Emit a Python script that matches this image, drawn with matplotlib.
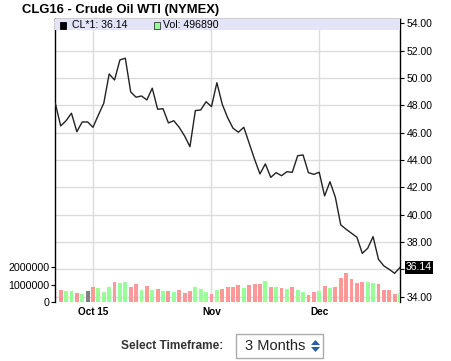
import matplotlib.pyplot as plt
from matplotlib.patches import Rectangle, Polygon
from matplotlib.ticker import FuncFormatter

plt.rcParams['font.family'] = ['Liberation Sans', 'DejaVu Sans']

# daily closes, first value is the prior close (left edge)
closes = [48.15, 46.49, 46.87, 47.42, 46.07, 46.78, 46.78, 46.39, 47.29, 48.15,
          50.29, 49.85, 51.32, 51.44, 48.97, 48.59, 48.68, 48.39, 49.25, 47.71,
          47.75, 46.71, 46.87, 46.39, 45.76, 44.97, 47.61, 47.66, 48.26, 47.90,
          49.65, 48.07, 47.09, 46.32, 46.03, 46.39, 45.22, 44.05, 42.98, 43.71,
          42.73, 43.07, 42.85, 43.14, 43.10, 44.31, 44.37, 43.07, 42.95, 43.10,
          41.37, 42.41, 41.27, 39.25, 38.93, 38.64, 38.35, 37.17, 37.54, 38.39,
          36.74, 36.25, 36.00, 35.71, 36.14]

# volume in millions, one per day from the second close on
volumes = [0.71, 0.66, 0.66, 0.52, 0.47, 0.64, 0.86, 0.81, 0.58, 0.86,
           1.14, 1.09, 1.14, 0.86, 1.03, 0.69, 0.92, 0.69, 0.75, 0.64,
           0.64, 0.58, 0.69, 0.52, 0.64, 0.86, 0.75, 0.58, 0.47, 0.69,
           0.75, 0.86, 0.86, 0.97, 0.81, 0.97, 1.03, 1.03, 1.20, 0.86,
           0.86, 0.81, 0.75, 0.86, 0.69, 0.58, 0.41, 0.58, 0.64, 0.92,
           0.81, 0.86, 1.37, 1.65, 1.31, 1.09, 1.14, 1.14, 1.09, 1.03,
           0.69, 0.69, 0.47, 0.49689]

month_ticks = [7, 29, 49]
month_labels = ["Oct 15", "Nov", "Dec"]
price_ticks = [34, 36, 38, 40, 42, 44, 46, 48, 50, 52, 54]
vol_ticks = [0, 1000000, 2000000]
last_price = 36.14
last_volume = 496890

days = list(range(len(closes)))
bar_days = days[1:]
bar_vol = [v * 1e6 for v in volumes]
colors = []
for prev, cur in zip(closes[:-1], closes[1:]):
    if cur > prev:
        colors.append("#99ff99")
    elif cur < prev:
        colors.append("#ff9999")
    else:
        colors.append("#808080")

W, H = 451, 361
def fx(x):
    return x / W
def fy(y):
    return 1 - y / H

def price_fmt(v, p):
    # the last-price tag hides the label it sits on
    if abs(v - last_price) < 0.5:
        return ""
    return f"{v:.2f}"

fig = plt.figure(figsize=(W / 100, H / 100), dpi=100)
top_px, bot_px, left_px, right_px = 19, 302.3, 55.3, 400
rect = [fx(left_px), fy(bot_px), (right_px - left_px) / W, (bot_px - top_px) / H]

base = fig.add_axes(rect)
vol = fig.add_axes(rect, sharex=base)
line_ax = fig.add_axes(rect, sharex=base, sharey=base)

# price scale / grid
base.set_xlim(0, len(closes) - 1)
base.set_ylim(33.59, 54.31)
base.set_yticks(price_ticks)
base.yaxis.set_major_formatter(FuncFormatter(price_fmt))
base.yaxis.tick_right()
base.set_xticks(month_ticks, month_labels)
base.grid(color="#dcdcdc", lw=1)
base.set_axisbelow(True)
base.tick_params(axis="y", length=3, width=0.8, pad=2, labelsize=7.5)
base.tick_params(axis="x", length=0, pad=3.5, labelsize=7.2)
for lab in base.get_xticklabels():
    lab.set_fontweight("bold")
base.spines["bottom"].set_visible(False)
for s in ["left", "right", "top"]:
    base.spines[s].set_linewidth(1)

# volume bars
vol.patch.set_visible(False)
vol.bar(bar_days, bar_vol, width=0.72, color=colors, linewidth=0)
vol.set_ylim(0, 15.92e6)
vol.set_yticks(vol_ticks)
vol.yaxis.set_major_formatter(FuncFormatter(lambda v, p: f"{int(v)}"))
vol.yaxis.tick_left()
vol.tick_params(axis="y", length=3, width=0.8, pad=1, labelsize=7.7)
vol.tick_params(axis="x", bottom=False, labelbottom=False)
for s in vol.spines.values():
    s.set_visible(False)

# price line + legend band
line_ax.patch.set_visible(False)
line_ax.axis("off")
band_h = (30 - top_px) / (bot_px - top_px)
line_ax.add_patch(Rectangle((0, 1 - band_h), 1, band_h, transform=line_ax.transAxes,
                            facecolor="#e4e4f8", edgecolor="none", zorder=1))
line_ax.plot(days, closes, color="#222222", lw=1, zorder=2)

base.annotate(f"{last_price:.2f}", xy=(1, last_price), xycoords=("axes fraction", "data"),
              xytext=(4.3, 0), textcoords="offset points", ha="left", va="center",
              color="white", fontsize=7.5, annotation_clip=False, zorder=5,
              bbox=dict(boxstyle="square,pad=0.12", fc="black", ec="none"))

# legend entries
fig.add_artist(Rectangle((fx(60), fy(28.7)), 6 / W, 6.4 / H, transform=fig.transFigure,
                         facecolor="black", edgecolor="black", lw=0.6))
fig.text(fx(72), fy(25.5), f"CL*1: {last_price:.2f}", fontsize=7.6, va="center")
fig.add_artist(Rectangle((fx(154), fy(28.7)), 6 / W, 6.4 / H, transform=fig.transFigure,
                         facecolor="#99ff99", edgecolor="#333333", lw=0.6))
fig.text(fx(163.3), fy(25.5), f"Vol: {last_volume}", fontsize=7.6, va="center")

fig.text(fx(22), fy(10), "CLG16 - Crude Oil WTI (NYMEX)", fontsize=9.4,
         fontweight="bold", va="center")

# timeframe selector
fig.text(fx(120.5), fy(346), "Select Timeframe:", fontsize=8.6, fontweight="bold",
         color="#333333", va="center")
fig.add_artist(Rectangle((fx(236), fy(358.3)), 87 / W, 24.3 / H, transform=fig.transFigure,
                         facecolor="white", edgecolor="#aaaaaa", lw=1))
fig.text(fx(245), fy(346), "3 Months", fontsize=10.5, color="#222222", va="center")
up = [(fx(311), fy(345)), (fx(320), fy(345)), (fx(315.5), fy(340))]
dn = [(fx(311), fy(347)), (fx(320), fy(347)), (fx(315.5), fy(352))]
for tri in (up, dn):
    fig.add_artist(Polygon(tri, closed=True, transform=fig.transFigure,
                           facecolor="#2a5caa", edgecolor="none"))

fig.savefig("out.png", dpi=100)
